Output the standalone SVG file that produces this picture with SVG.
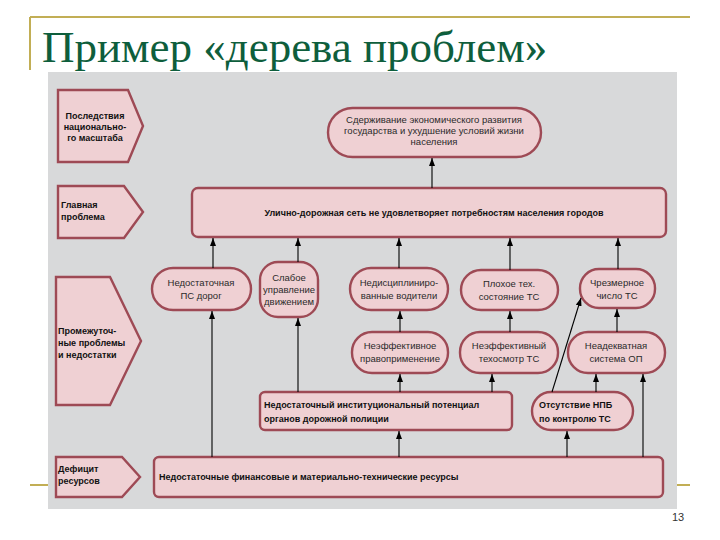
<svg xmlns="http://www.w3.org/2000/svg" width="720" height="540" viewBox="0 0 720 540">
<defs>
<marker id="ah" viewBox="0 0 8 6" refX="8" refY="3" markerWidth="8" markerHeight="6" markerUnits="userSpaceOnUse" orient="auto"><path d="M0,0 L8,3 L0,6 z" fill="#000"/></marker>
<style>
.box{fill:#EFD0D3;stroke:#9E4A55;stroke-width:2.4}
.t{font-family:"Liberation Sans",Arial,sans-serif;font-size:9.5px;fill:#2a2a2a;text-anchor:middle}
.b{font-family:"Liberation Sans",Arial,sans-serif;font-size:9px;font-weight:bold;fill:#111}
.c{stroke:#000;stroke-width:1.1;fill:none;marker-end:url(#ah)}
.deco{stroke:#C2AE55;stroke-width:2;fill:none}
</style>
</defs>
<rect x="0" y="0" width="720" height="540" fill="#fff"/>
<path class="deco" d="M30,17 H690 M30,17 V70 M30,485 H690"/>
<text x="42" y="62" font-family="'Liberation Serif','Times New Roman',serif" font-size="45" fill="#0E5E3C">Пример «дерева проблем»</text>
<rect x="48" y="72" width="629" height="437" fill="#D8D9DA"/>

<g id="p1"><path class="box" d="M58,90 H128 L143,126 L128,162 H58 Z"/>
<text class="b" x="95" text-anchor="middle"><tspan x="95" y="119">Последствия</tspan><tspan x="95" y="130">национально-</tspan><tspan x="95" y="141">го масштаба</tspan></text></g>
<g id="p2"><path class="box" d="M58,186 H124 L143,212 L124,238 H58 Z"/>
<text class="b"><tspan x="61" y="208">Главная</tspan><tspan x="61" y="220">проблема</tspan></text></g>
<g id="p3"><path class="box" d="M56,277 H110 L141,341 L110,405 H56 Z"/>
<text class="b"><tspan x="58" y="334">Промежуточ-</tspan><tspan x="58" y="346">ные проблемы</tspan><tspan x="58" y="358">и недостатки</tspan></text></g>
<g id="p4"><path class="box" d="M56,457 H122 L140,477 L122,497 H56 Z"/>
<text class="b"><tspan x="58" y="472">Дефицит</tspan><tspan x="58" y="484">ресурсов</tspan></text></g>

<g id="top"><rect class="box" x="328" y="108" width="213" height="49" rx="24.5"/>
<text class="t"><tspan x="434" y="123">Сдерживание экономического развития</tspan><tspan x="434" y="134">государства и ухудшение условий жизни</tspan><tspan x="434" y="145">населения</tspan></text></g>
<g id="main"><rect class="box" x="192" y="188" width="474" height="49" rx="6"/>
<text class="b" x="434" y="216" text-anchor="middle">Улично-дорожная сеть не удовлетворяет потребностям населения городов</text></g>

<g id="b1"><rect class="box" x="152" y="268" width="99" height="42" rx="21"/>
<text class="t"><tspan x="201" y="286">Недостаточная</tspan><tspan x="201" y="299">ПС дорог</tspan></text></g>
<g id="b2"><rect class="box" x="260" y="262" width="58" height="55" rx="18"/>
<text class="t"><tspan x="289" y="281">Слабое</tspan><tspan x="289" y="293">управление</tspan><tspan x="289" y="305">движением</tspan></text></g>
<g id="b3"><rect class="box" x="350" y="268" width="98" height="42" rx="21"/>
<text class="t"><tspan x="399" y="286">Недисциплиниро-</tspan><tspan x="399" y="299">ванные водители</tspan></text></g>
<g id="b4"><rect class="box" x="461" y="270" width="97" height="40" rx="20"/>
<text class="t"><tspan x="509" y="287">Плохое тех.</tspan><tspan x="509" y="300">состояние ТС</tspan></text></g>
<g id="b5"><rect class="box" x="580" y="269" width="75" height="39" rx="19"/>
<text class="t"><tspan x="617" y="286">Чрезмерное</tspan><tspan x="617" y="299">число ТС</tspan></text></g>

<g id="c1"><rect class="box" x="352" y="332" width="96" height="41" rx="20"/>
<text class="t"><tspan x="400" y="349">Неэффективное</tspan><tspan x="400" y="362">правоприменение</tspan></text></g>
<g id="c2"><rect class="box" x="460" y="332" width="98" height="41" rx="20"/>
<text class="t"><tspan x="509" y="349">Неэффективный</tspan><tspan x="509" y="362">техосмотр ТС</tspan></text></g>
<g id="c3"><rect class="box" x="568" y="332" width="97" height="41" rx="20"/>
<text class="t"><tspan x="616" y="349">Неадекватная</tspan><tspan x="616" y="362">система ОП</tspan></text></g>

<g id="d1"><rect class="box" x="260" y="392" width="252" height="38" rx="5"/>
<text class="b"><tspan x="264" y="408">Недостаточный институциональный потенциал</tspan><tspan x="264" y="422">органов дорожной полиции</tspan></text></g>
<g id="d2"><rect class="box" x="532" y="392" width="101" height="38" rx="19"/>
<text class="b"><tspan x="539" y="408">Отсутствие НПБ</tspan><tspan x="539" y="422">по контролю ТС</tspan></text></g>

<g id="e"><rect class="box" x="154" y="457" width="509" height="40" rx="5"/>
<text class="b" x="159" y="480">Недостаточные финансовые и материально-технические ресурсы</text></g>

<g id="connectors">
<path class="c" d="M432,188 V158"/>
<path class="c" d="M213,268 V238"/>
<path class="c" d="M298,262 V238"/>
<path class="c" d="M399,268 V238"/>
<path class="c" d="M510,270 V238"/>
<path class="c" d="M618,269 V238"/>
<path class="c" d="M212,457 V311"/>
<path class="c" d="M298,392 V318"/>
<path class="c" d="M400,332 V311"/>
<path class="c" d="M510,332 V311"/>
<path class="c" d="M617,332 V309"/>
<path class="c" d="M552,392 L581,298"/>
<path class="c" d="M400,392 V374"/>
<path class="c" d="M492,392 V374"/>
<path class="c" d="M596,392 V374"/>
<path class="c" d="M643,457 V374"/>
<path class="c" d="M399,457 V431"/>
<path class="c" d="M567,457 V431"/>
</g>
<text x="672" y="521" font-family="'Liberation Sans',Arial,sans-serif" font-size="11" fill="#333">13</text>
</svg>
